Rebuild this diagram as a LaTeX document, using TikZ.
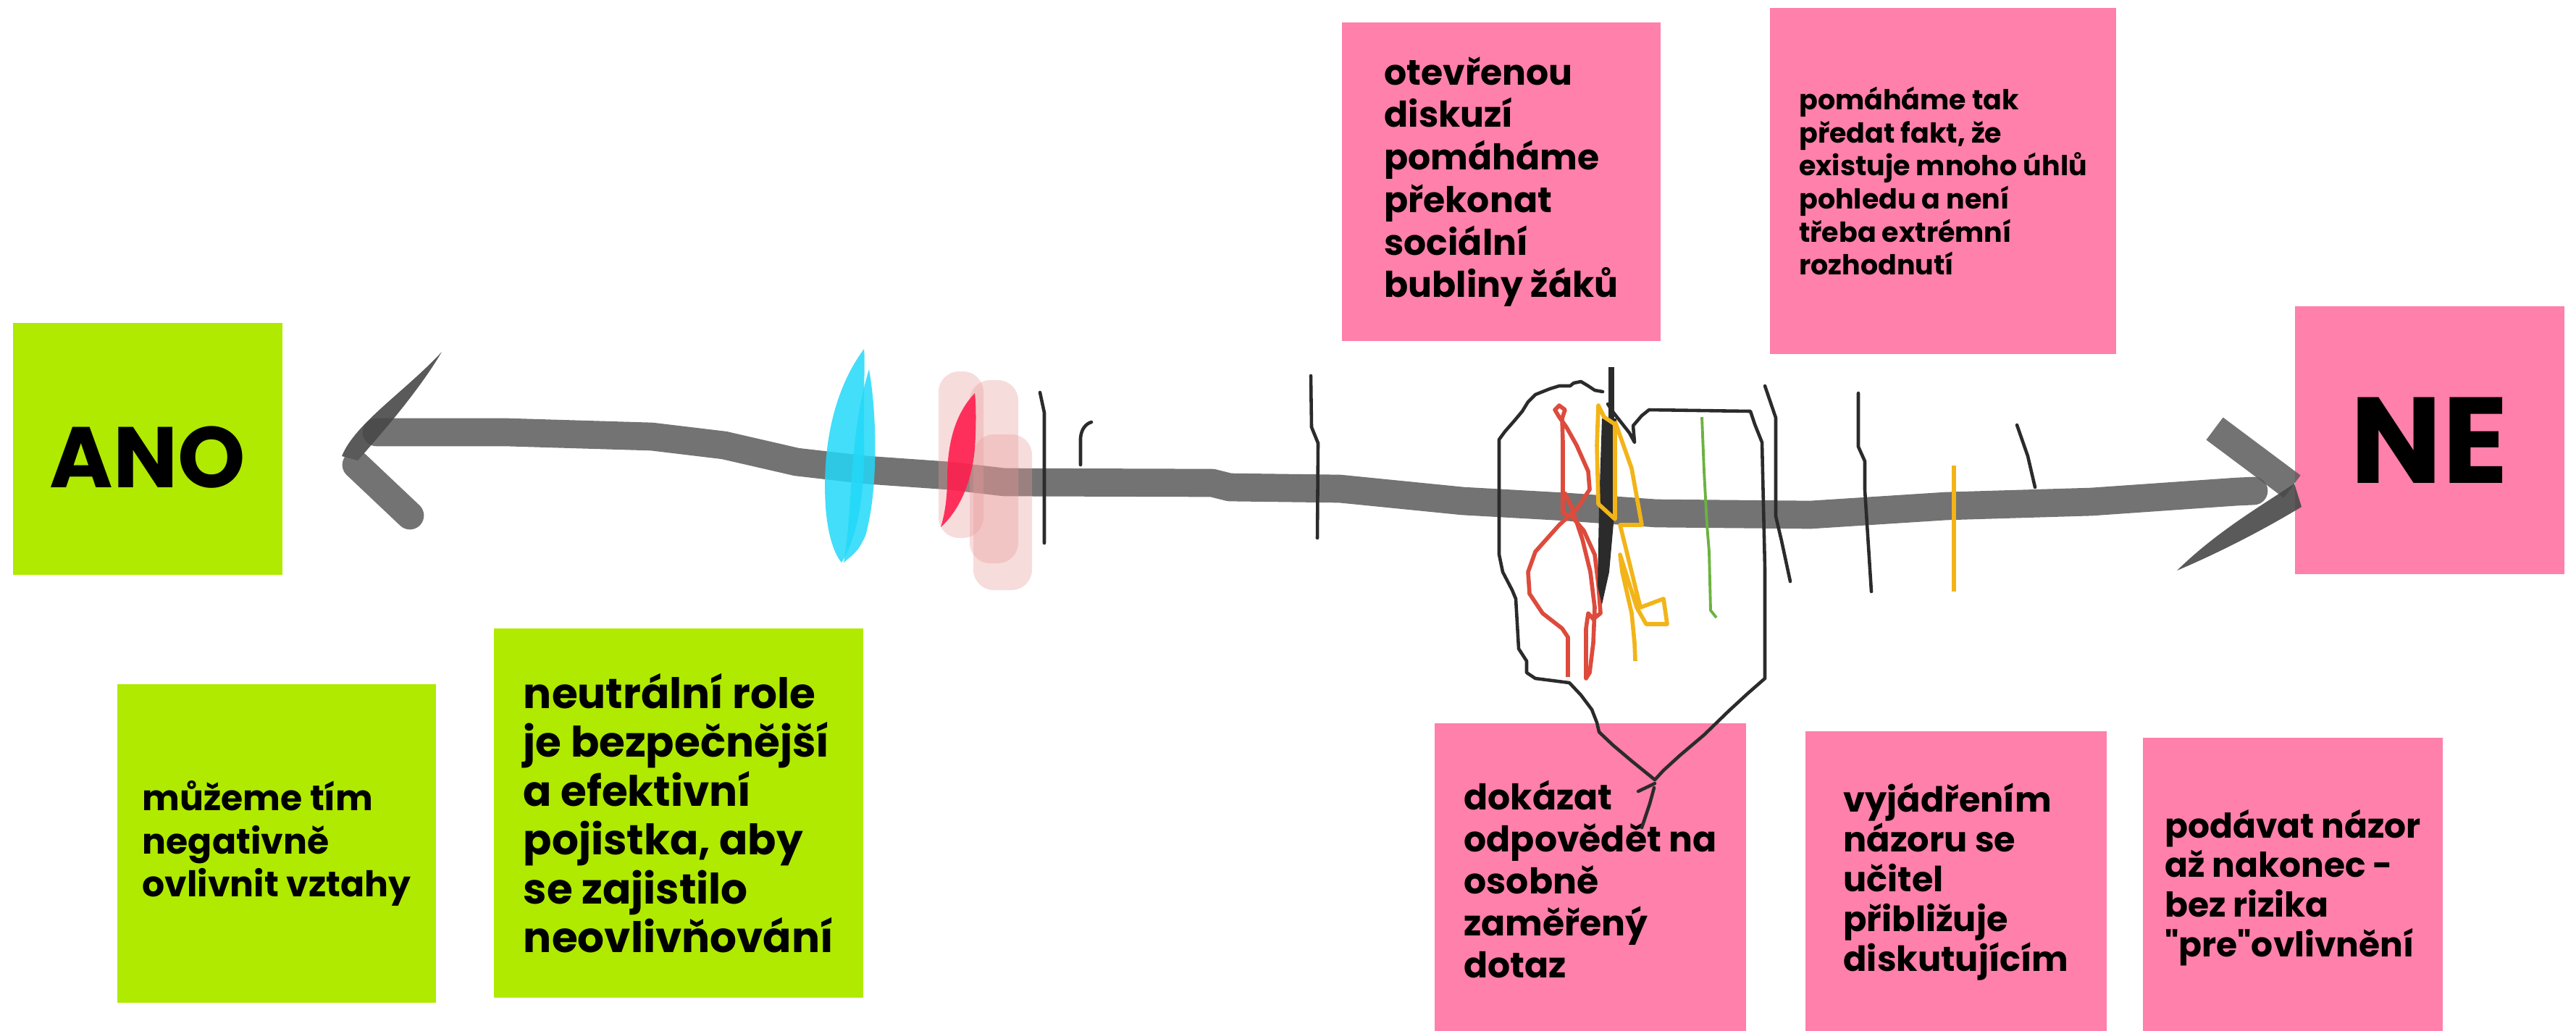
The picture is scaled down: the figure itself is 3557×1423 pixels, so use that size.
\documentclass[tikz,border=0pt]{standalone}
\usepackage{fontspec}
\setmainfont{Poppins}[Ligatures=TeXOff]
\usepackage{xcolor}
\definecolor{notepink}{HTML}{FF80AA}
\definecolor{notegreen}{HTML}{AFEA00}
\definecolor{ink}{HTML}{2B2B2B}
\definecolor{shaftgray}{HTML}{5A5A5A}
\definecolor{brushcyan}{HTML}{22D8F8}
\definecolor{brushred}{HTML}{FF1E4E}
\definecolor{brushrose}{HTML}{E89A9A}
\definecolor{penred}{HTML}{DD4B3C}
\definecolor{penyellow}{HTML}{F2B418}
\definecolor{pengreen}{HTML}{6BB340}
\tikzset{
 note/.style={rectangle, inner sep=0pt, align=left, text=black},
 pinknote/.style={note, fill=notepink},
 greennote/.style={note, fill=notegreen},
 pen/.style={draw=ink, line width=1.3pt, line cap=round, line join=round},
 shaft/.style={draw=shaftgray, opacity=.85, line cap=round, line join=round},
}

\begin{document}
\begin{tikzpicture}[x=.01cm, y=-.01cm]
\useasboundingbox (0,0) rectangle (3557,1423);

\node[greennote, minimum width=3.71cm, minimum height=3.47cm, text height=1.07cm, text depth=0pt, font=\fontsize{33.8}{40}\selectfont\bfseries] (ano) at (204,620) {ANO};
\node[pinknote, minimum width=3.71cm, minimum height=3.70cm, font=\fontsize{48}{56}\selectfont\bfseries] (ne) at (3355,608) {NE};

\node[pinknote, minimum size=4.4cm, font=\fontsize{13.9}{16.7}\selectfont\bfseries] (diskuze) at (2073,251)
 {otevřenou\\diskuzí\\pomáháme\\překonat\\sociální\\bubliny žáků};
\node[pinknote, minimum size=4.77cm, font=\fontsize{10.8}{13}\selectfont\bfseries] (uhly) at (2683,250)
 {pomáháme tak\\předat fakt, že\\existuje mnoho úhlů\\pohledu a není\\třeba extrémní\\rozhodnutí};
\node[pinknote, minimum size=4.3cm, font=\fontsize{13.9}{16.5}\selectfont\bfseries] (dotaz) at (2196,1214)
 {dokázat\\odpovědět na\\osobně\\zaměřený\\dotaz};
\node[pinknote, minimum size=4.16cm, font=\fontsize{13.6}{15.6}\selectfont\bfseries] (ucitel) at (2701,1218)
 {vyjádřením\\názoru se\\učitel\\přibližuje\\diskutujícím};
\node[pinknote, minimum size=4.13cm, font=\fontsize{13.4}{15.6}\selectfont\bfseries] (nakonec) at (3166,1226)
 {podávat názor\\až nakonec -\\bez rizika\\"pre"ovlivnění};
\node[greennote, minimum size=4.4cm, font=\fontsize{13.9}{16.9}\selectfont\bfseries] (vztahy) at (382,1165)
 {můžeme tím\\negativně\\ovlivnit vztahy};
\node[greennote, minimum size=5.1cm, font=\fontsize{16.5}{19.2}\selectfont\bfseries] (role) at (937,1123)
 {neutrální role\\je bezpečnější\\a efektivní\\pojistka, aby\\se zajistilo\\neovlivňování};

% sketched axis
\draw[shaft, line width=11pt] (520,597) -- (700,597) -- (900,603) -- (1000,615) -- (1100,638) -- (1196,649) -- (1310,657)
 -- (1387,666) -- (1674,667) -- (1698,673) -- (1850,675) -- (2020,692) -- (2163,700) -- (2287,709) -- (2500,711)
 -- (2687,699) -- (2888,693) -- (3089,679) -- (3112,678);
\fill[shaftgray!80!black, opacity=.9] (472,630) .. controls (490,585) and (560,540) .. (610,486) .. controls (578,540) and (530,595) .. (494,636) -- cycle;
\draw[shaft, line width=11pt] (492,642) -- (566,712);
\draw[shaft, line width=11pt, line cap=butt] (3058,592) -- (3165,672);
\fill[shaftgray!80!black, opacity=.9] (3168,668) .. controls (3120,700) and (3060,735) .. (3006,788) .. controls (3060,765) and (3120,735) .. (3178,700) -- cycle;

% marks
\fill[brushcyan, opacity=.85] (1193,482) .. controls (1150,540) and (1135,620) .. (1140,700) .. controls (1143,740) and (1152,765) .. (1162,777) .. controls (1185,740) and (1195,680) .. (1193,600) .. controls (1192,540) and (1195,500) .. (1193,482) -- cycle;
\fill[brushcyan, opacity=.85] (1200,510) .. controls (1212,580) and (1212,680) .. (1195,740) .. controls (1185,760) .. (1165,777) .. controls (1178,700) and (1172,600) .. (1200,510) -- cycle;
\fill[brushrose, opacity=.35, rounded corners=8pt] (1296,513) rectangle (1358,743);
\fill[brushrose, opacity=.35, rounded corners=8pt] (1339,525) rectangle (1406,778);
\fill[brushrose, opacity=.35, rounded corners=8pt] (1344,600) rectangle (1425,815);
\fill[brushred, opacity=.9] (1346,543) .. controls (1320,570) and (1308,610) .. (1308,660) .. controls (1308,690) and (1304,712) .. (1299,728) .. controls (1325,705) and (1342,665) .. (1346,620) .. controls (1348,590) and (1348,560) .. (1346,543) -- cycle;

\draw[pen] (1436,542) -- (1442,570) -- (1442,750);
\draw[pen] (1492,642) -- (1492,605) .. controls (1493,592) and (1500,585) .. (1507,583);
\draw[pen] (1810,519) -- (1811,590) -- (1820,612) -- (1819,743);
\draw[pen] (2437,533) -- (2452,577) -- (2452,713) -- (2460,747) -- (2472,803);
\draw[pen] (2566,543) -- (2566,617) -- (2575,637) -- (2575,677) -- (2584,817);
\draw[pen] (2785,587) -- (2800,630) -- (2810,673);
\draw[penyellow, line width=1.5pt] (2698,643) -- (2698,817);

% outline round the cluster
\draw[pen] (2213,541) -- (2202,539) -- (2193,533) -- (2183,527) -- (2173,529) -- (2168,533) -- (2153,533) -- (2140,537)
 -- (2120,545) -- (2110,555) -- (2102,568) -- (2092,580) -- (2078,596) -- (2070,607) -- (2070,766) -- (2075,790)
 -- (2088,815) -- (2093,827) -- (2097,896) -- (2108,913) -- (2108,929) -- (2120,937) -- (2167,943) -- (2183,960)
 -- (2198,980) -- (2205,998) -- (2208,1011) -- (2227,1029) -- (2253,1051) -- (2285,1077) -- (2297,1064) -- (2320,1043)
 -- (2353,1015) -- (2387,982) -- (2413,958) -- (2437,937) -- (2437,786) -- (2433,611) -- (2423,586) -- (2417,568)
 -- (2277,566) -- (2267,574) -- (2255,588) -- (2257,611) -- (2250,598) -- (2228,570) -- (2220,558);
\draw[pen] (2262,1093) -- (2285,1082);
\draw[pen] (2284,1088) -- (2278,1110) -- (2267,1143);

\draw[penred, line width=1.6pt, line join=round] (2165,935) -- (2165,880) -- (2157,868) -- (2130,847) -- (2112,820) -- (2110,790)
 -- (2120,762) -- (2153,725) -- (2178,702) -- (2195,676) -- (2193,651) -- (2177,615) -- (2163,590) -- (2153,576)
 -- (2147,566) -- (2153,560) -- (2161,566) -- (2157,578) -- (2158,611) -- (2158,709) -- (2170,713) -- (2187,733)
 -- (2202,766) -- (2207,807) -- (2210,847) -- (2200,855) -- (2193,847) -- (2190,868) -- (2190,937) -- (2195,929)
 -- (2200,888) -- (2202,839) -- (2196,790) -- (2185,745) -- (2170,700) -- (2160,680);
\draw[ink, line width=2.4pt] (2225,507) -- (2225,582);
\fill[ink] (2212,578) -- (2232,578) -- (2230,700) -- (2222,790) -- (2212,835) -- (2206,810) -- (2208,700) -- cycle;
\draw[penyellow, line width=1.6pt, line join=round] (2207,560) -- (2205,615) -- (2207,696) -- (2230,717) -- (2230,586) -- (2215,576) -- cycle;
\draw[penyellow, line width=1.6pt, line join=round] (2230,582) -- (2253,647) -- (2267,725) -- (2237,725) -- (2253,790) -- (2265,839)
 -- (2297,827) -- (2302,862) -- (2273,862) -- (2260,839) -- (2237,766) -- (2240,790) -- (2253,847) -- (2257,888) -- (2258,913);
\draw[pengreen, line width=1.1pt, line join=round] (2350,576) -- (2353,651) -- (2357,725) -- (2360,762) -- (2362,843) -- (2370,853);
\end{tikzpicture}
\end{document}
